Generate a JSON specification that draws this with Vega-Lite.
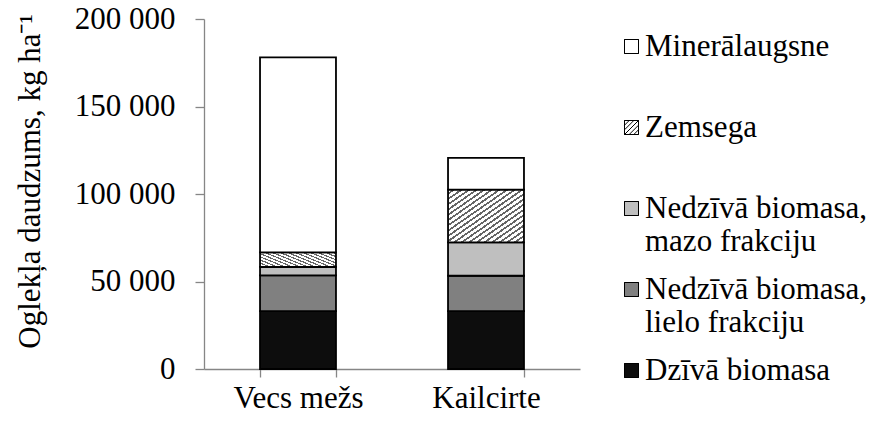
{
  "$schema": "https://vega.github.io/schema/vega-lite/v6.json",
  "width": 376,
  "height": 350,
  "autosize": {"type": "none"},
  "padding": {"left": 204, "top": 19, "right": 299, "bottom": 54},
  "background": "white",
  "config": {
    "view": {"stroke": null},
    "font": "Liberation Serif",
    "axis": {
      "labelFont": "Liberation Serif",
      "titleFont": "Liberation Serif",
      "labelColor": "black",
      "titleColor": "black",
      "labelFontSize": 31,
      "titleFontSize": 31,
      "titleFontWeight": "normal",
      "domainColor": "#868686",
      "tickColor": "#868686",
      "domainWidth": 1.3,
      "tickWidth": 1.3,
      "grid": false
    },
    "legend": {
      "labelFont": "Liberation Serif",
      "labelFontSize": 31,
      "labelColor": "black",
      "title": null,
      "orient": "none",
      "legendX": 412,
      "legendY": 12,
      "padding": 0,
      "symbolSize": 196,
      "symbolStrokeColor": "black",
      "symbolStrokeWidth": 1,
      "symbolOpacity": 1,
      "labelOffset": -2,
      "labelLimit": 400,
      "labelBaseline": "middle",
      "labelLineHeight": 32,
      "gridAlign": "all",
      "rowPadding": 16
    }
  },
  "data": {
    "values": [
      {"site": "Vecs mežs", "component": "Dzīvā biomasa", "carbon": 33100},
      {"site": "Vecs mežs", "component": "Nedzīvā biomasa, lielo frakciju", "carbon": 20400},
      {"site": "Vecs mežs", "component": "Nedzīvā biomasa, mazo frakciju", "carbon": 4800},
      {"site": "Vecs mežs", "component": "Zemsega", "carbon": 8400},
      {"site": "Vecs mežs", "component": "Minerālaugsne", "carbon": 111400},
      {"site": "Kailcirte", "component": "Dzīvā biomasa", "carbon": 33100},
      {"site": "Kailcirte", "component": "Nedzīvā biomasa, lielo frakciju", "carbon": 20200},
      {"site": "Kailcirte", "component": "Nedzīvā biomasa, mazo frakciju", "carbon": 19100},
      {"site": "Kailcirte", "component": "Zemsega", "carbon": 30100},
      {"site": "Kailcirte", "component": "Minerālaugsne", "carbon": 18100}
    ]
  },
  "transform": [
    {"calculate": "indexof(['Dzīvā biomasa', 'Nedzīvā biomasa, lielo frakciju', 'Nedzīvā biomasa, mazo frakciju', 'Zemsega', 'Minerālaugsne'], datum.component)", "as": "stackOrder"}
  ],
  "layer": [
    {
      "mark": {"type": "bar", "stroke": "black", "strokeWidth": 1.8},
      "encoding": {
        "x": {
          "field": "site",
          "type": "nominal",
          "sort": ["Vecs mežs", "Kailcirte"],
          "scale": {"paddingInner": 0.596, "paddingOuter": 0.298},
          "axis": {
            "title": null,
            "labelAngle": 0,
            "tickBand": "extent",
            "tickSize": 8,
            "labelPadding": 6
          }
        },
        "y": {
          "field": "carbon",
          "type": "quantitative",
          "stack": "zero",
          "scale": {"domain": [0, 200000], "nice": false},
          "axis": {
            "title": "Oglekļa daudzums, kg ha⁻¹",
            "values": [0, 50000, 100000, 150000, 200000],
            "labelExpr": "replace(format(datum.value, ','), ',', ' ')",
            "tickSize": 9,
            "labelPadding": 20,
            "titlePadding": 28,
            "titleY": 162
          }
        },
        "order": {"field": "stackOrder", "type": "quantitative"},
        "color": {
          "field": "component",
          "type": "nominal",
          "sort": ["Dzīvā biomasa", "Nedzīvā biomasa, lielo frakciju", "Nedzīvā biomasa, mazo frakciju", "Zemsega", "Minerālaugsne"],
          "scale": {"range": ["#0d0d0d", "#808080", "#bfbfbf", "#ffffff", "#ffffff"]},
          "legend": {
            "values": ["Minerālaugsne", "Zemsega", "Nedzīvā biomasa, mazo frakciju", "Nedzīvā biomasa, lielo frakciju", "Dzīvā biomasa"],
            "symbolType": "square",
            "labelExpr": "datum.label == 'Nedzīvā biomasa, mazo frakciju' ? ['Nedzīvā biomasa,', 'mazo frakciju'] : datum.label == 'Nedzīvā biomasa, lielo frakciju' ? ['Nedzīvā biomasa,', 'lielo frakciju'] : datum.label"
          },
          "condition": {
            "test": "datum.component === 'Zemsega'",
            "value": {"gradient": "linear", "x1": 0, "y1": 0, "x2": 1, "y2": 1, "stops": [
              {"offset": 0, "color": "#ffffff"}, {"offset": 0.03, "color": "#ffffff"}, {"offset": 0.03, "color": "#666666"}, {"offset": 0.05, "color": "#666666"},
              {"offset": 0.05, "color": "#ffffff"}, {"offset": 0.08, "color": "#ffffff"}, {"offset": 0.08, "color": "#666666"}, {"offset": 0.10, "color": "#666666"},
              {"offset": 0.10, "color": "#ffffff"}, {"offset": 0.13, "color": "#ffffff"}, {"offset": 0.13, "color": "#666666"}, {"offset": 0.15, "color": "#666666"},
              {"offset": 0.15, "color": "#ffffff"}, {"offset": 0.18, "color": "#ffffff"}, {"offset": 0.18, "color": "#666666"}, {"offset": 0.20, "color": "#666666"},
              {"offset": 0.20, "color": "#ffffff"}, {"offset": 0.23, "color": "#ffffff"}, {"offset": 0.23, "color": "#666666"}, {"offset": 0.25, "color": "#666666"},
              {"offset": 0.25, "color": "#ffffff"}, {"offset": 0.28, "color": "#ffffff"}, {"offset": 0.28, "color": "#666666"}, {"offset": 0.30, "color": "#666666"},
              {"offset": 0.30, "color": "#ffffff"}, {"offset": 0.33, "color": "#ffffff"}, {"offset": 0.33, "color": "#666666"}, {"offset": 0.35, "color": "#666666"},
              {"offset": 0.35, "color": "#ffffff"}, {"offset": 0.38, "color": "#ffffff"}, {"offset": 0.38, "color": "#666666"}, {"offset": 0.40, "color": "#666666"},
              {"offset": 0.40, "color": "#ffffff"}, {"offset": 0.43, "color": "#ffffff"}, {"offset": 0.43, "color": "#666666"}, {"offset": 0.45, "color": "#666666"},
              {"offset": 0.45, "color": "#ffffff"}, {"offset": 0.48, "color": "#ffffff"}, {"offset": 0.48, "color": "#666666"}, {"offset": 0.50, "color": "#666666"},
              {"offset": 0.50, "color": "#ffffff"}, {"offset": 0.53, "color": "#ffffff"}, {"offset": 0.53, "color": "#666666"}, {"offset": 0.55, "color": "#666666"},
              {"offset": 0.55, "color": "#ffffff"}, {"offset": 0.58, "color": "#ffffff"}, {"offset": 0.58, "color": "#666666"}, {"offset": 0.60, "color": "#666666"},
              {"offset": 0.60, "color": "#ffffff"}, {"offset": 0.63, "color": "#ffffff"}, {"offset": 0.63, "color": "#666666"}, {"offset": 0.65, "color": "#666666"},
              {"offset": 0.65, "color": "#ffffff"}, {"offset": 0.68, "color": "#ffffff"}, {"offset": 0.68, "color": "#666666"}, {"offset": 0.70, "color": "#666666"},
              {"offset": 0.70, "color": "#ffffff"}, {"offset": 0.73, "color": "#ffffff"}, {"offset": 0.73, "color": "#666666"}, {"offset": 0.75, "color": "#666666"},
              {"offset": 0.75, "color": "#ffffff"}, {"offset": 0.78, "color": "#ffffff"}, {"offset": 0.78, "color": "#666666"}, {"offset": 0.80, "color": "#666666"},
              {"offset": 0.80, "color": "#ffffff"}, {"offset": 0.83, "color": "#ffffff"}, {"offset": 0.83, "color": "#666666"}, {"offset": 0.85, "color": "#666666"},
              {"offset": 0.85, "color": "#ffffff"}, {"offset": 0.88, "color": "#ffffff"}, {"offset": 0.88, "color": "#666666"}, {"offset": 0.90, "color": "#666666"},
              {"offset": 0.90, "color": "#ffffff"}, {"offset": 0.93, "color": "#ffffff"}, {"offset": 0.93, "color": "#666666"}, {"offset": 0.95, "color": "#666666"},
              {"offset": 0.95, "color": "#ffffff"}, {"offset": 0.98, "color": "#ffffff"}, {"offset": 0.98, "color": "#666666"}, {"offset": 1.0, "color": "#666666"}
            ]}
          }
        }
      }
    },
    {
      "mark": {"type": "point", "filled": false, "size": 0, "opacity": 1, "color": "black", "strokeWidth": 1},
      "encoding": {
        "shape": {
          "field": "component",
          "type": "nominal",
          "sort": "ascending",
          "scale": {"range": ["square", "square", "square", "square", "M-1,-1H1V1H-1Z M-1,-0.33L-0.33,-1 M-1,0.33L0.33,-1 M-1,1L1,-1 M-0.33,1L1,-0.33 M0.33,1L1,0.33"]},
          "legend": {
            "values": ["Minerālaugsne", "Zemsega", "Nedzīvā biomasa, mazo frakciju", "Nedzīvā biomasa, lielo frakciju", "Dzīvā biomasa"],
            "symbolFillColor": "transparent",
            "symbolStrokeColor": "black",
            "labelOpacity": 0,
            "labelExpr": "datum.label == 'Nedzīvā biomasa, mazo frakciju' ? ['Nedzīvā biomasa,', 'mazo frakciju'] : datum.label == 'Nedzīvā biomasa, lielo frakciju' ? ['Nedzīvā biomasa,', 'lielo frakciju'] : datum.label"
          }
        }
      }
    }
  ]
}
